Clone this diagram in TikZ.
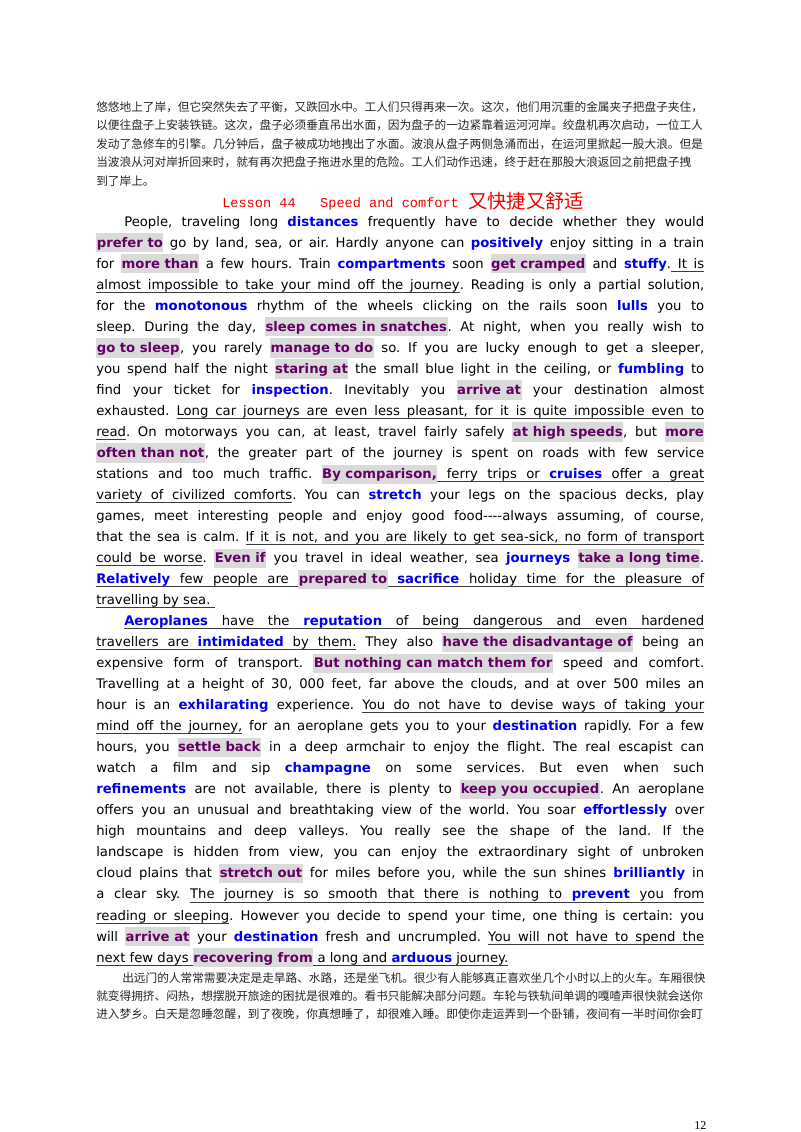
\documentclass[tikz,border=0pt]{standalone}
\usepackage{fontspec}
\setmainfont{DejaVu Sans}
\newfontfamily\cjk{Noto Sans CJK SC}
\newfontfamily\mono{Liberation Mono}
\newfontfamily\serifnum{Liberation Serif}
\XeTeXlinebreaklocale "zh"
\XeTeXlinebreakskip=0pt plus 1pt
\frenchspacing

\definecolor{kwblue}{RGB}{0,0,235}
\definecolor{hlpurple}{RGB}{100,0,100}
\definecolor{hlgray}{RGB}{218,218,218}
\definecolor{titlered}{RGB}{240,0,0}
\definecolor{ulgray}{RGB}{60,60,60}

\setlength{\fboxsep}{0.4pt}
\newcommand{\kw}[1]{\textcolor{kwblue}{\textbf{#1}}}
\newcommand{\hl}[1]{\colorbox{hlgray}{\rule[-3.6pt]{0pt}{13.6pt}\textcolor{hlpurple}{\textbf{#1}}}}
\newcommand{\ulword}[1]{\setbox0\hbox{#1}\rlap{\textcolor{ulgray}{\rule[-2.5pt]{\wd0}{0.6pt}}}\box0}
\newcommand{\ulgap}{{\color{ulgray}\leaders\hrule height -1.9pt depth 2.5pt\hskip\fontdimen2\font plus\fontdimen3\font}}
\def\ul#1{\ulA#1 \relax}
\def\ulA#1 #2\relax{\ulword{#1}\ifx\relax#2\relax\else\ulgap\ulA#2\relax\fi}
\newcommand{\full}[1]{\makebox[456pt][s]{#1}}
\newcommand{\fullind}[1]{\makebox[435pt][s]{#1}}

\tikzset{
  eline/.style={anchor=base west, inner sep=0pt, font=\fontsize{9.9}{12}\selectfont},
  cline/.style={anchor=base west, inner sep=0pt, font=\cjk\fontsize{8.75}{11}\selectfont, text=black!85},
}

\begin{document}
\begin{tikzpicture}[x=0.75pt,y=-0.75pt]
\useasboundingbox (0,0) rectangle (800,1132);

% previous lesson, Chinese
\node[cline] (c1) at (96,111) {\full{悠悠地上了岸，但它突然失去了平衡，又跌回水中。工人们只得再来一次。这次，他们用沉重的金属夹子把盘子夹住，}};
\node[cline] (c2) at (96,129.6) {\full{以便往盘子上安装铁链。这次，盘子必须垂直吊出水面，因为盘子的一边紧靠着运河河岸。绞盘机再次启动，一位工人}};
\node[cline] (c3) at (96,148.2) {\full{发动了急修车的引擎。几分钟后，盘子被成功地拽出了水面。波浪从盘子两侧急涌而出，在运河里掀起一股大浪。但是}};
\node[cline] (c4) at (96,166.8) {\full{当波浪从河对岸折回来时，就有再次把盘子拖进水里的危险。工人们动作迅速，终于赶在那股大浪返回之前把盘子拽}};
\node[cline] (c5) at (96,185.4) {到了岸上。};

% title
\node[anchor=base west, inner sep=0pt, text=titlered, font=\mono\fontsize{10.2}{12}\selectfont] (title) at (222,207) {Lesson 44\ \ \ Speed and comfort};
\node[anchor=base west, inner sep=0pt, text=titlered, font=\cjk\fontsize{14.5}{16}\selectfont] (titlecn) at (468,208) {\makebox[102pt][s]{又快捷又舒适}};

% paragraph one
\node[eline] (e1) at (124,226) {\fullind{People, traveling long \kw{distances} frequently have to decide whether they would}};
\node[eline] (e2) at (96,247.03) {\full{\hl{prefer to} go by land, sea, or air. Hardly anyone can \kw{positively} enjoy sitting in a train}};
\node[eline] (e3) at (96,268.06) {\full{for \hl{more than} a few hours. Train \kw{compartments} soon \hl{get cramped} and \kw{stuffy}.\ulgap\ul{It is}}};
\node[eline] (e4) at (96,289.09) {\full{\ul{almost impossible to take your mind off the journey}. Reading is only a partial solution,}};
\node[eline] (e5) at (96,310.12) {\full{for the \kw{monotonous} rhythm of the wheels clicking on the rails soon \kw{lulls} you to}};
\node[eline] (e6) at (96,331.15) {\full{sleep. During the day, \hl{sleep comes in snatches}. At night, when you really wish to}};
\node[eline] (e7) at (96,352.18) {\full{\hl{go to sleep}, you rarely \hl{manage to do} so. If you are lucky enough to get a sleeper,}};
\node[eline] (e8) at (96,373.21) {\full{you spend half the night \hl{staring at} the small blue light in the ceiling, or \kw{fumbling} to}};
\node[eline] (e9) at (96,394.24) {\full{find your ticket for \kw{inspection}. Inevitably you \hl{arrive at} your destination almost}};
\node[eline] (e10) at (96,415.27) {\full{exhausted. \ul{Long car journeys are even less pleasant, for it is quite impossible even to}}};
\node[eline] (e11) at (96,436.3) {\full{\ul{read}. On motorways you can, at least, travel fairly safely \hl{at high speeds}, but \hl{more}}};
\node[eline] (e12) at (96,457.33) {\full{\hl{often than not}, the greater part of the journey is spent on roads with few service}};
\node[eline] (e13) at (96,478.36) {\full{stations and too much traffic. \ul{\hl{By comparison,} ferry trips or \kw{cruises} offer a great}}};
\node[eline] (e14) at (96,499.39) {\full{\ul{variety of civilized comforts}. You can \kw{stretch} your legs on the spacious decks, play}};
\node[eline] (e15) at (96,520.42) {\full{games, meet interesting people and enjoy good food-{}-{}-{}-always assuming, of course,}};
\node[eline] (e16) at (96,541.45) {\full{that the sea is calm. \ul{If it is not, and you are likely to get sea-sick, no form of transport}}};
\node[eline] (e17) at (96,562.48) {\full{\ul{could be worse}. \hl{Even if} you travel in ideal weather, sea \kw{journeys} \hl{take a long time}.}};
\node[eline] (e18) at (96,583.51) {\full{\ul{\kw{Relatively} few people are \hl{prepared to} \kw{sacrifice} holiday time for the pleasure of}}};
\node[eline] (e19) at (96,604.54) {\ul{travelling by sea.}\ulgap};

% paragraph two
\node[eline] (e20) at (124,625.57) {\fullind{\ul{\kw{Aeroplanes} have the \kw{reputation} of being dangerous and even hardened}}};
\node[eline] (e21) at (96,646.6) {\full{\ul{travellers are \kw{intimidated} by them.}\ They also \hl{have the disadvantage of} being an}};
\node[eline] (e22) at (96,667.63) {\full{expensive form of transport. \hl{But nothing can match them for} speed and comfort.}};
\node[eline] (e23) at (96,688.66) {\full{Travelling at a height of 30, 000 feet, far above the clouds, and at over 500 miles an}};
\node[eline] (e24) at (96,709.69) {\full{hour is an \kw{exhilarating} experience. \ul{You do not have to devise ways of taking your}}};
\node[eline] (e25) at (96,730.72) {\full{\ul{mind off the journey,}\ for an aeroplane gets you to your \kw{destination} rapidly. For a few}};
\node[eline] (e26) at (96,751.75) {\full{hours, you \hl{settle back} in a deep armchair to enjoy the flight. The real escapist can}};
\node[eline] (e27) at (96,772.78) {\full{watch a film and sip \kw{champagne} on some services. But even when such}};
\node[eline] (e28) at (96,793.81) {\full{\kw{refinements} are not available, there is plenty to \hl{keep you occupied}. An aeroplane}};
\node[eline] (e29) at (96,814.84) {\full{offers you an unusual and breathtaking view of the world. You soar \kw{effortlessly} over}};
\node[eline] (e30) at (96,835.87) {\full{high mountains and deep valleys. You really see the shape of the land. If the}};
\node[eline] (e31) at (96,856.9) {\full{landscape is hidden from view, you can enjoy the extraordinary sight of unbroken}};
\node[eline] (e32) at (96,877.93) {\full{cloud plains that \hl{stretch out} for miles before you, while the sun shines \kw{brilliantly} in}};
\node[eline] (e33) at (96,898.96) {\full{a clear sky. \ul{The journey is so smooth that there is nothing to \kw{prevent} you from}}};
\node[eline] (e34) at (96,919.99) {\full{\ul{reading or sleeping}. However you decide to spend your time, one thing is certain: you}};
\node[eline] (e35) at (96,941.02) {\full{will \hl{arrive at} your \kw{destination} fresh and uncrumpled. \ul{You will not have to spend the}}};
\node[eline] (e36) at (96,962.05) {\ul{next few days \hl{recovering from} a long and \kw{arduous} journey.}};

% translation, Chinese
\node[cline] (t1) at (122,982) {\makebox[436.5pt][s]{出远门的人常常需要决定是走旱路、水路，还是坐飞机。很少有人能够真正喜欢坐几个小时以上的火车。车厢很快}};
\node[cline] (t2) at (96,1000.4) {\full{就变得拥挤、闷热，想摆脱开旅途的困扰是很难的。看书只能解决部分问题。车轮与铁轨间单调的嘎喳声很快就会送你}};
\node[cline] (t3) at (96,1018.8) {\full{进入梦乡。白天是忽睡忽醒，到了夜晚，你真想睡了，却很难入睡。即使你走运弄到一个卧铺，夜间有一半时间你会盯}};

% page number
\node[anchor=base west, inner sep=0pt, font=\serifnum\fontsize{9}{10}\selectfont] (page) at (694,1129) {12};
\end{tikzpicture}
\end{document}
